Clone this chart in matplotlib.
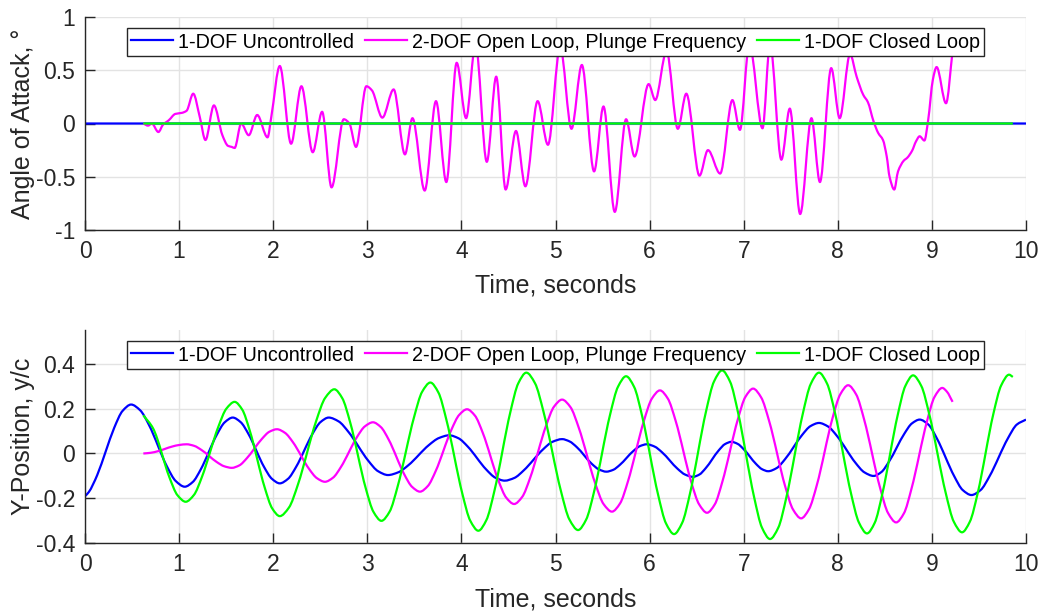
import numpy as np
import matplotlib
matplotlib.use('Agg')
import matplotlib.pyplot as plt
from matplotlib.ticker import FuncFormatter
from matplotlib.path import Path
from matplotlib.patches import PathPatch
from matplotlib.lines import Line2D

plt.rcParams['font.family'] = ['Liberation Sans', 'DejaVu Sans']
plt.rcParams['axes.unicode_minus'] = False

# ---- top panel: angle of attack (deg) ----
unc_aoa_t = [0.0, 10.0]
unc_aoa = [0.0, 0.0]
cl_aoa_t = [0.62, 9.86]
cl_aoa = [0.0, 0.0]
ol_aoa_t = [0.62, 0.67, 0.71, 0.78, 0.83, 0.89, 0.96, 1.03, 1.08, 1.15,
            1.22, 1.28, 1.37, 1.46, 1.52, 1.56, 1.59, 1.66, 1.74, 1.83,
            1.94, 1.98, 2.07, 2.19, 2.30, 2.42, 2.52, 2.62, 2.75, 2.81,
            2.88, 2.99, 3.05, 3.16, 3.28, 3.40, 3.48, 3.61, 3.73, 3.84,
            3.95, 4.05, 4.15, 4.27, 4.37, 4.47, 4.58, 4.68, 4.81, 4.92,
            5.05, 5.17, 5.28, 5.41, 5.51, 5.63, 5.75, 5.84, 5.99, 6.06,
            6.18, 6.30, 6.39, 6.53, 6.62, 6.75, 6.88, 6.96, 7.06, 7.20,
            7.28, 7.40, 7.49, 7.60, 7.72, 7.81, 7.93, 8.02, 8.13, 8.20,
            8.27, 8.32, 8.38, 8.43, 8.48, 8.52, 8.55, 8.60, 8.64, 8.70,
            8.74, 8.79, 8.83, 8.87, 8.92, 8.96, 9.01, 9.05, 9.15, 9.22]
ol_aoa = [0.00, -0.02, 0.00, -0.08, -0.01, 0.03, 0.09, 0.10, 0.12, 0.28,
          0.06, -0.155, 0.17, -0.11, -0.21, -0.22, -0.23, 0.00, -0.11, 0.08,
          -0.13, 0.064, 0.54, -0.19, 0.35, -0.27, 0.11, -0.60, 0.04, 0.00,
          -0.22, 0.35, 0.31, 0.055, 0.32, -0.29, 0.05, -0.63, 0.21, -0.55,
          0.57, 0.05, 0.75, -0.36, 0.44, -0.62, -0.07, -0.59, 0.21, -0.20,
          0.72, -0.05, 0.55, -0.45, 0.16, -0.83, 0.04, -0.31, 0.37, 0.22,
          0.68, -0.05, 0.28, -0.49, -0.25, -0.47, 0.22, -0.06, 0.75, -0.045,
          0.75, -0.34, 0.14, -0.85, 0.05, -0.55, 0.52, 0.05, 0.65, 0.44,
          0.27, 0.20, 0.02, -0.09, -0.155, -0.31, -0.50, -0.62, -0.45, -0.35,
          -0.32, -0.255, -0.17, -0.12, -0.16, 0.03, 0.41, 0.53, 0.19, 0.68]

# ---- bottom panel: plunge position y/c ----
unc_t = [0.00, 0.04, 0.13, 0.22, 0.31, 0.40, 0.49,
         0.585, 0.68, 0.87, 0.965, 1.06,
         1.145, 1.23, 1.40, 1.485, 1.57,
         1.653, 1.737, 1.903, 1.987, 2.07,
         2.157, 2.243, 2.417, 2.503, 2.59,
         2.695, 2.80, 3.01, 3.115, 3.22,
         3.328, 3.437, 3.653, 3.762, 3.87,
         3.968, 4.067, 4.263, 4.362, 4.46,
         4.562, 4.663, 4.867, 4.968, 5.07,
         5.148, 5.227, 5.383, 5.462, 5.54,
         5.612, 5.683, 5.827, 5.898, 5.97,
         6.052, 6.133, 6.297, 6.378, 6.46,
         6.528, 6.597, 6.733, 6.802, 6.87,
         6.935, 7.00, 7.13, 7.195, 7.26,
         7.35, 7.44, 7.62, 7.71, 7.80,
         7.897, 7.993, 8.187, 8.283, 8.38,
         8.462, 8.543, 8.707, 8.788, 8.87,
         8.962, 9.053, 9.237, 9.328, 9.42,
         9.517, 9.613, 9.807, 9.903, 10.0]
unc_y = [-0.190, -0.172, -0.096, 0.009, 0.114, 0.190, 0.218,
         0.193, 0.127, -0.057, -0.123, -0.148,
         -0.127, -0.071, 0.083, 0.139, 0.160,
         0.140, 0.087, -0.060, -0.113, -0.133,
         -0.113, -0.060, 0.087, 0.140, 0.160,
         0.143, 0.096, -0.032, -0.079, -0.096,
         -0.084, -0.052, 0.037, 0.069, 0.081,
         0.068, 0.031, -0.071, -0.108, -0.121,
         -0.109, -0.075, 0.018, 0.052, 0.064,
         0.054, 0.028, -0.045, -0.071, -0.081,
         -0.073, -0.051, 0.011, 0.033, 0.041,
         0.031, 0.005, -0.068, -0.094, -0.104,
         -0.094, -0.065, 0.013, 0.042, 0.052,
         0.043, 0.019, -0.046, -0.070, -0.079,
         -0.065, -0.025, 0.082, 0.122, 0.136,
         0.120, 0.077, -0.041, -0.084, -0.100,
         -0.083, -0.037, 0.088, 0.134, 0.151,
         0.129, 0.067, -0.101, -0.163, -0.185,
         -0.163, -0.101, 0.067, 0.129, 0.151]

ol_t = [0.62, 0.697, 0.773, 0.927, 1.003, 1.08,
        1.16, 1.24, 1.40, 1.48, 1.56,
        1.64, 1.72, 1.88, 1.96, 2.04,
        2.125, 2.21, 2.38, 2.465, 2.55,
        2.635, 2.72, 2.89, 2.975, 3.06,
        3.143, 3.227, 3.393, 3.477, 3.56,
        3.643, 3.727, 3.893, 3.977, 4.06,
        4.143, 4.227, 4.393, 4.477, 4.56,
        4.645, 4.73, 4.90, 4.985, 5.07,
        5.158, 5.247, 5.423, 5.512, 5.60,
        5.685, 5.77, 5.94, 6.025, 6.11,
        6.193, 6.277, 6.443, 6.527, 6.61,
        6.692, 6.773, 6.937, 7.018, 7.10,
        7.185, 7.27, 7.44, 7.525, 7.61,
        7.693, 7.777, 7.943, 8.027, 8.11,
        8.195, 8.28, 8.45, 8.535, 8.62,
        8.702, 8.783, 8.947, 9.028, 9.11, 9.16, 9.22]
ol_y = [0.000, 0.003, 0.010, 0.031, 0.038, 0.041,
        0.034, 0.015, -0.038, -0.057, -0.064,
        -0.053, -0.021, 0.065, 0.097, 0.108,
        0.092, 0.050, -0.068, -0.110, -0.126,
        -0.108, -0.060, 0.073, 0.121, 0.139,
        0.118, 0.062, -0.093, -0.149, -0.170,
        -0.145, -0.078, 0.105, 0.172, 0.197,
        0.169, 0.092, -0.120, -0.197, -0.225,
        -0.194, -0.109, 0.124, 0.209, 0.240,
        0.207, 0.115, -0.134, -0.226, -0.259,
        -0.223, -0.124, 0.146, 0.245, 0.281,
        0.245, 0.145, -0.128, -0.227, -0.264,
        -0.227, -0.126, 0.151, 0.252, 0.289,
        0.250, 0.145, -0.145, -0.250, -0.289,
        -0.249, -0.141, 0.156, 0.264, 0.304,
        0.263, 0.151, -0.154, -0.266, -0.307,
        -0.267, -0.157, 0.142, 0.252, 0.292, 0.275, 0.230]

cl_t = [0.62, 0.723, 0.897, 0.983, 1.07,
        1.157, 1.243, 1.417, 1.503, 1.59,
        1.67, 1.75, 1.91, 1.99, 2.07,
        2.167, 2.263, 2.457, 2.553, 2.65,
        2.733, 2.817, 2.983, 3.067, 3.15,
        3.237, 3.323, 3.497, 3.583, 3.67,
        3.755, 3.84, 4.01, 4.095, 4.18,
        4.265, 4.35, 4.52, 4.605, 4.69,
        4.782, 4.873, 5.057, 5.148, 5.24,
        5.325, 5.41, 5.58, 5.665, 5.75,
        5.835, 5.92, 6.09, 6.175, 6.26,
        6.345, 6.43, 6.60, 6.685, 6.77,
        6.855, 6.94, 7.11, 7.195, 7.28,
        7.367, 7.453, 7.627, 7.713, 7.80,
        7.885, 7.97, 8.14, 8.225, 8.31,
        8.392, 8.473, 8.637, 8.718, 8.80,
        8.887, 8.973, 9.147, 9.233, 9.32,
        9.403, 9.487, 9.653, 9.737, 9.82, 9.86]
cl_y = [0.170, 0.112, -0.106, -0.186, -0.215,
        -0.185, -0.104, 0.119, 0.200, 0.230,
        0.196, 0.103, -0.152, -0.245, -0.279,
        -0.241, -0.138, 0.145, 0.248, 0.286,
        0.247, 0.140, -0.154, -0.261, -0.300,
        -0.259, -0.146, 0.162, 0.275, 0.316,
        0.272, 0.151, -0.179, -0.300, -0.344,
        -0.297, -0.168, 0.184, 0.313, 0.360,
        0.313, 0.185, -0.166, -0.294, -0.341,
        -0.295, -0.170, 0.173, 0.298, 0.344,
        0.297, 0.168, -0.183, -0.312, -0.359,
        -0.310, -0.177, 0.188, 0.321, 0.370,
        0.320, 0.182, -0.193, -0.331, -0.381,
        -0.331, -0.196, 0.175, 0.310, 0.360,
        0.312, 0.181, -0.177, -0.308, -0.356,
        -0.309, -0.180, 0.172, 0.301, 0.348,
        0.301, 0.173, -0.176, -0.304, -0.351,
        -0.304, -0.176, 0.176, 0.304, 0.351, 0.341]

labels = ['1-DOF Uncontrolled', '2-DOF Open Loop, Plunge Frequency', '1-DOF Closed Loop']
colors = ['#0000ff', '#ff00ff', '#00ff00']
x_ticks = np.arange(0, 11, 1)
aoa_ticks = [-1, -0.5, 0, 0.5, 1]
y_ticks = [-0.4, -0.2, 0, 0.2, 0.4]

txt = '#262626'
W, H = 1041, 612
lw = 1.6


def smooth_line(ax, t, v, color):
    # draw the sampled curve as a smooth bezier path (monotone tangents)
    t = np.asarray(t, float)
    v = np.asarray(v, float)
    d = np.diff(v) / np.diff(t)
    m = np.zeros_like(v)
    m[0], m[-1] = d[0], d[-1]
    for i in range(1, len(v) - 1):
        if d[i - 1] * d[i] > 0:
            m[i] = 2.0 / (1.0 / d[i - 1] + 1.0 / d[i])
    verts = [(t[0], v[0])]
    codes = [Path.MOVETO]
    for i in range(len(t) - 1):
        h = t[i + 1] - t[i]
        verts += [(t[i] + h / 3, v[i] + m[i] * h / 3),
                  (t[i + 1] - h / 3, v[i + 1] - m[i + 1] * h / 3),
                  (t[i + 1], v[i + 1])]
        codes += [Path.CURVE4] * 3
    ax.add_patch(PathPatch(Path(verts, codes), fill=False, edgecolor=color,
                           lw=lw, capstyle='butt', joinstyle='round'))


def style_axes(ax, yticks, ylim, ylabel):
    ax.set_xlim(0, 10)
    ax.set_ylim(*ylim)
    ax.set_xticks(x_ticks)
    ax.set_yticks(yticks)
    fmt = FuncFormatter(lambda v, p: '%g' % v)
    ax.xaxis.set_major_formatter(fmt)
    ax.yaxis.set_major_formatter(fmt)
    ax.grid(True, color='#e3e3e3', linewidth=1.0)
    ax.set_axisbelow(True)
    for s in ['top', 'right']:
        ax.spines[s].set_visible(False)
    for s in ['left', 'bottom']:
        ax.spines[s].set_color(txt)
        ax.spines[s].set_linewidth(1.0)
    ax.tick_params(direction='in', length=7, width=1.0, colors=txt,
                   labelsize=16.5, pad=7)
    ax.set_xlabel('Time, seconds', fontsize=18, color=txt, labelpad=8)
    ax.set_ylabel(ylabel, fontsize=18, color=txt, labelpad=0.5)
    handles = [Line2D([], [], color=c, lw=lw) for c in colors]
    leg = ax.legend(handles, labels, loc='upper center',
                    bbox_to_anchor=(0.5, 1 - 11.3 / 213),
                    ncol=3, fontsize=14.2, frameon=True, fancybox=False,
                    framealpha=1, edgecolor='#262626', borderaxespad=0,
                    handlelength=2.15, handleheight=1.1, handletextpad=0.25,
                    columnspacing=0.55, borderpad=0.2)
    leg.get_frame().set_linewidth(1.0)


fig = plt.figure(figsize=(W / 100, H / 100), dpi=100)
ax1 = fig.add_axes([85 / W, 1 - 230 / H, 941 / W, 213 / H])
ax2 = fig.add_axes([85 / W, 1 - 543.3 / H, 941 / W, 213.3 / H])

smooth_line(ax1, unc_aoa_t, unc_aoa, colors[0])
smooth_line(ax1, ol_aoa_t, ol_aoa, colors[1])
smooth_line(ax1, cl_aoa_t, cl_aoa, colors[2])
style_axes(ax1, aoa_ticks, (-1, 1), 'Angle of Attack, °')

smooth_line(ax2, unc_t, unc_y, colors[0])
smooth_line(ax2, ol_t, ol_y, colors[1])
smooth_line(ax2, cl_t, cl_y, colors[2])
style_axes(ax2, y_ticks, (-0.4, 0.55), 'Y-Position, y/c')

fig.savefig('out.png', dpi=100)
